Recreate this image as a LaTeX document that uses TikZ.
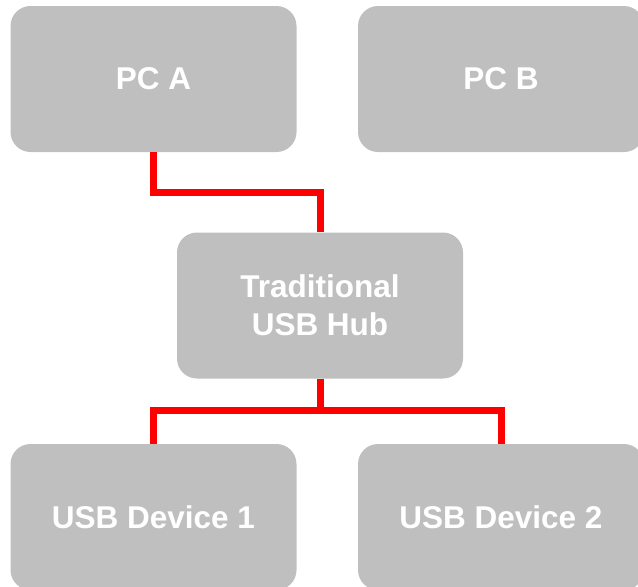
\documentclass[tikz,border=0pt]{standalone}
\usepackage{fontspec}
\setmainfont{Liberation Sans}
\begin{document}
\begin{tikzpicture}[x=1pt,y=-1pt,
  box/.style={fill=boxgray, draw=none, rounded corners=20pt, minimum width=286pt, minimum height=146pt, inner sep=0pt, align=center, text=white, font=\fontsize{31.5}{38}\selectfont\bfseries},
  wire/.style={draw=red, line width=7pt, line join=miter}]
\definecolor{boxgray}{HTML}{BFBFBF}
\useasboundingbox (0,0) rectangle (638,587);
\clip (0,0) rectangle (638,587);
\node[box] (pca) at (153.5,79) {PC A};
\node[box] (pcb) at (501,79) {PC B};
\node[box] (hub) at (320,305.5) {Traditional\\USB Hub};
\node[box] (dev1) at (153.5,517) {USB Device 1};
\node[box] (dev2) at (501,517) {USB Device 2};
\draw[wire] (pca.south) -- ++(0,40) -| (hub.north);
\draw[wire] (hub.south) -- ++(0,32) -| (dev1.north);
\draw[wire] (hub.south) -- ++(0,32) -| (dev2.north);
\end{tikzpicture}
\end{document}
